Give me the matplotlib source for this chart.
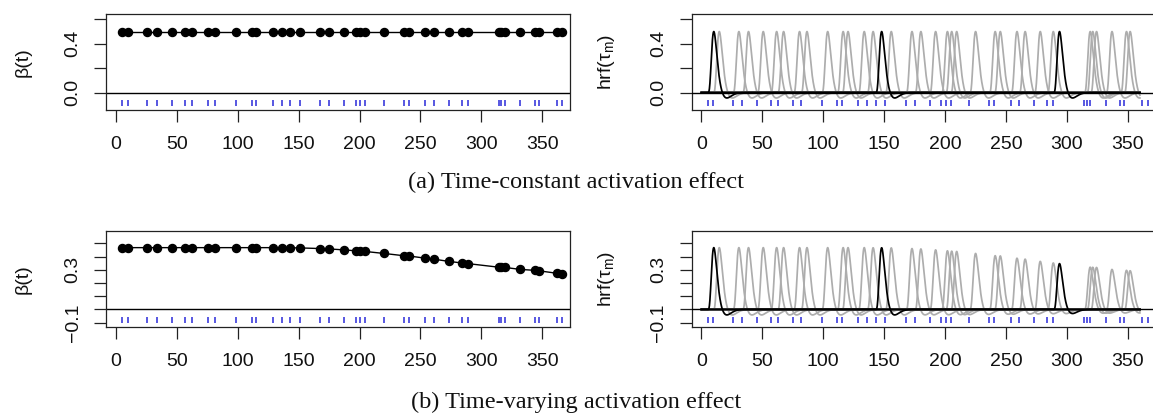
import numpy as np
import matplotlib
matplotlib.use("Agg")
import matplotlib.pyplot as plt
from math import gamma as G

# ---------------- data ----------------
onsets = [5.2, 9.7, 25.8, 33.7, 45.8, 56.8, 62.5, 75.6, 81.7, 98.7,
          111.4, 115.4, 128.7, 136.0, 143.0, 150.9, 167.9, 175.2, 187.3, 197.0,
          200.5, 204.6, 220.1, 236.2, 240.4, 254.1, 260.8, 273.2, 283.9, 289.0,
          314.2, 316.3, 319.4, 332.1, 344.0, 347.0, 361.9, 366.4]

beta_const = [0.50, 0.50, 0.50, 0.50, 0.50, 0.50, 0.50, 0.50, 0.50, 0.50,
              0.50, 0.50, 0.50, 0.50, 0.50, 0.50, 0.50, 0.50, 0.50, 0.50,
              0.50, 0.50, 0.50, 0.50, 0.50, 0.50, 0.50, 0.50, 0.50, 0.50,
              0.50, 0.50, 0.50, 0.50, 0.50, 0.50, 0.50, 0.50]

beta_vary = [0.468, 0.468, 0.468, 0.468, 0.468, 0.468, 0.468, 0.468, 0.468, 0.468,
             0.468, 0.468, 0.468, 0.467, 0.467, 0.466, 0.461, 0.458, 0.451, 0.444,
             0.441, 0.439, 0.424, 0.407, 0.405, 0.388, 0.381, 0.364, 0.352, 0.347,
             0.320, 0.319, 0.318, 0.303, 0.296, 0.293, 0.274, 0.272]

highlight = [0, 14, 29]          # events whose HRF is drawn in black

x_ticks = [0, 50, 100, 150, 200, 250, 300, 350]
x_lim = (-8.1, 372.8)
t_end = 360.0

top_yticks = [0.0, 0.2, 0.4, 0.6]
top_ylabels = ["0.0", "", "0.4", ""]
top_ylim = (-0.143, 0.644)
top_rug_y = -0.088

bot_yticks = [-0.1, 0.0, 0.1, 0.2, 0.3, 0.4, 0.5]
bot_ylabels = ["\u22120.1", "", "", "", "0.3", "", ""]
bot_ylim = (-0.133, 0.594)
bot_rug_y = -0.077

captions = ["(a) Time-constant activation effect",
            "(b) Time-varying activation effect"]

# ---------------- style ----------------
SANS = ["Liberation Sans", "DejaVu Sans"]
SERIF = ["Liberation Serif", "DejaVu Serif"]
plt.rcParams["font.family"] = SANS
plt.rcParams["mathtext.fontset"] = "custom"
plt.rcParams["mathtext.rm"] = "Liberation Sans"
plt.rcParams["mathtext.it"] = "Liberation Sans:italic"

W, H = 1153, 420
fig = plt.figure(figsize=(W / 100, H / 100), dpi=100)

def box(x0, y0, x1, y1):
    return [x0 / W, 1 - y1 / H, (x1 - x0) / W, (y1 - y0) / H]

tgrid = np.linspace(0, t_end, 3601)

def canon(u):
    u = np.clip(u, 0, None)
    return u ** 5 * np.exp(-u) / G(6) - u ** 15 * np.exp(-u) / (6 * G(16))

peak_norm = canon(np.linspace(0, 32, 3201)).max()

def style(ax, yticks, ylabels, ylim, ylabel):
    ax.set_xlim(*x_lim)
    ax.set_ylim(*ylim)
    ax.set_xticks(x_ticks)
    ax.set_xticklabels([str(v) for v in x_ticks])
    ax.set_yticks(yticks)
    ax.set_yticklabels(ylabels, rotation=90, va="center")
    ax.tick_params(axis="both", direction="out", length=8.5, width=0.9,
                   labelsize=14, color="#222222", labelcolor="#111111")
    ax.tick_params(axis="x", pad=10)
    ax.tick_params(axis="y", pad=9)
    for s in ax.spines.values():
        s.set_linewidth(0.9)
        s.set_color("#222222")
    ax.set_ylabel(ylabel, fontsize=14, color="#111111")
    ax.yaxis.set_label_coords(-0.16, 0.5)

rows = [(14, 110, beta_const, top_yticks, top_ylabels, top_ylim, top_rug_y, 182),
        (231, 327, beta_vary, bot_yticks, bot_ylabels, bot_ylim, bot_rug_y, 402)]

for (y0, y1, beta, yt, yl, ylim, rug_y, cap_y), cap in zip(rows, captions):
    # left: beta(t)
    axl = fig.add_axes(box(106, y0, 570, y1))
    axl.axhline(0, color="black", lw=1.0, zorder=2)
    axl.plot(onsets, beta, "-o", color="black", lw=1.0, ms=5.8, zorder=3)
    axl.plot(onsets, [rug_y] * len(onsets), ls="none", marker="|",
             ms=5.0, mew=1.1, color="#2a2ad8", zorder=3)
    style(axl, yt, yl, ylim, "\u03b2(t)")

    # right: hrf curves
    axr = fig.add_axes(box(691.5, y0, 1155.5, y1))
    for i, (on, b) in enumerate(zip(onsets, beta)):
        if i in highlight:
            continue
        curve = np.where(tgrid >= on, canon(tgrid - on), 0.0) / peak_norm * b
        axr.plot(tgrid, curve, color="#adadad", lw=1.25, zorder=2)
    axr.axhline(0, color="black", lw=1.0, zorder=3)
    for i in highlight:
        on, b = onsets[i], beta[i]
        curve = np.where(tgrid >= on, canon(tgrid - on), 0.0) / peak_norm * b
        axr.plot(tgrid, curve, color="black", lw=1.25, zorder=4)
    axr.plot(onsets, [rug_y] * len(onsets), ls="none", marker="|",
             ms=5.0, mew=1.1, color="#2a2ad8", zorder=3)
    style(axr, yt, yl, ylim, r"hrf($\mathregular{\tau_m}$)")

    fig.text(0.5, 1 - cap_y / H, cap, ha="center", va="center",
             fontsize=17.5, family=SERIF, color="#111111")

fig.savefig("out.png", dpi=100)
